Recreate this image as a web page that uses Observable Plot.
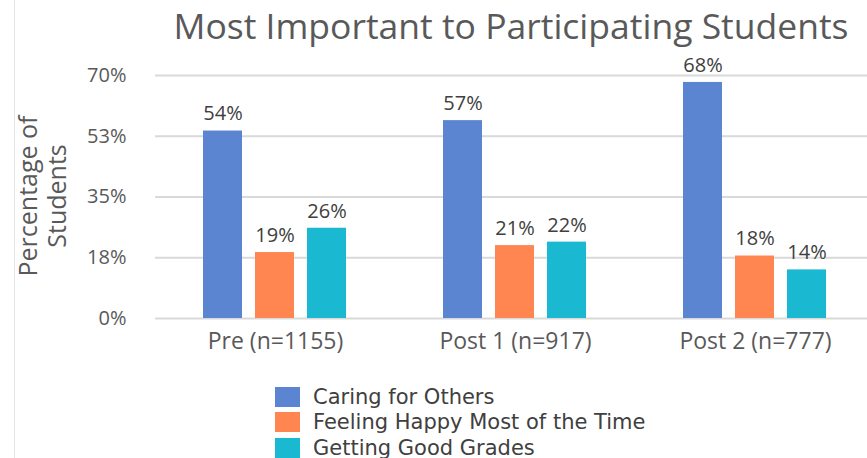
<!DOCTYPE html>
<html><head><meta charset="utf-8">
<script src="https://cdn.jsdelivr.net/npm/d3@7"></script>
<script src="https://cdn.jsdelivr.net/npm/@observablehq/plot@0.6"></script>
<style>
body{margin:0;background:#fff;}
#wrap{position:relative;width:867px;height:458px;overflow:hidden;background:#fff;}
#edge{position:absolute;left:14px;top:0;width:0;height:458px;border-left:1px solid #e4e4e4;}
#title{position:absolute;left:155px;width:712px;top:1px;text-align:center;font-family:"Open Sans";font-size:35.5px;color:#595959;white-space:nowrap;}
#ylab{position:absolute;left:42px;top:196px;width:240px;text-align:center;font-family:"Open Sans";font-size:25px;line-height:29px;color:#595959;transform:translate(-50%,-50%) rotate(-90deg);}
#chart{position:absolute;left:0;top:50px;}
#legend{position:absolute;left:275px;top:384px;font-family:"DejaVu Sans";font-size:21px;color:#404040;}
.row{display:flex;align-items:center;height:25.5px;}
.sw{width:25px;height:20px;margin-right:13px;}
</style></head>
<body><div id="wrap"><div id="edge"></div><div id="title"></div><div id="ylab"></div><div id="chart"></div><div id="legend"></div></div>
<script>
const titleText = "Most Important to Participating Students";
const yLabelLines = ["Percentage of", "Students"];
const groups = ["Pre (n=1155)", "Post 1 (n=917)", "Post 2 (n=777)"];
const seriesNames = ["Caring for Others", "Feeling Happy Most of the Time", "Getting Good Grades"];
const caring = [54, 57, 68];
const happy = [19, 21, 18];
const grades = [26, 22, 14];
const yTicks = [0, 17.5, 35, 52.5, 70];
const yTickLabels = ["0%", "18%", "35%", "53%", "70%"];
const colors = ["#5B84D1", "#FF8650", "#1BB8D2"];

const seriesValues = [caring, happy, grades];
const rows = [];
groups.forEach((g, gi) => seriesNames.forEach((s, si) => rows.push({group: g, series: s, value: seriesValues[si][gi]})));

document.getElementById("title").textContent = titleText;
document.getElementById("ylab").innerHTML = yLabelLines.map(t => `<div>${t}</div>`).join("");

const chart = Plot.plot({
  width: 867, height: 318,
  marginTop: 25, marginBottom: 50, marginLeft: 155, marginRight: -8,
  facet: {data: rows, x: "group", marginRight: -8, marginBottom: 50, marginTop: 25, marginLeft: 155},
  fx: {domain: groups, paddingInner: 0, paddingOuter: 0, label: null, axis: "bottom", tickSize: 0, tickPadding: 14},
  x: {domain: seriesNames, axis: null, paddingInner: 0.245, paddingOuter: 0.887},
  y: {domain: [0, 70], ticks: yTicks, tickFormat: d => yTickLabels[yTicks.indexOf(d)], tickSize: 0, tickPadding: 29, label: null},
  color: {domain: seriesNames, range: colors},
  style: {fontFamily: "Open Sans", fontSize: "20px", color: "#595959", background: "transparent", overflow: "visible"},
  marks: [
    Plot.ruleY(yTicks, {stroke: "#d9d9d9", strokeWidth: 2}),
    Plot.barY(rows, {x: "series", y: "value", fill: "series"}),
    Plot.text(rows, {x: "series", y: "value", text: d => d.value + "%", dy: -17, fill: "#404040", fontSize: 20})
  ]
});
chart.querySelectorAll('[aria-label="fx-axis tick label"] text, g[aria-label="fx-axis"] text').forEach(t => t.style.fontSize = "23px");
document.getElementById("chart").appendChild(chart);

const legend = document.getElementById("legend");
seriesNames.forEach((s, i) => {
  const r = document.createElement("div"); r.className = "row";
  const sw = document.createElement("div"); sw.className = "sw"; sw.style.background = colors[i];
  const t = document.createElement("span"); t.textContent = s;
  r.appendChild(sw); r.appendChild(t); legend.appendChild(r);
});
</script></body></html>
